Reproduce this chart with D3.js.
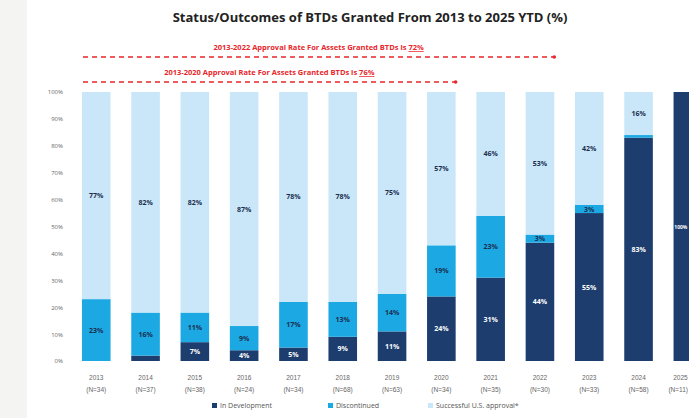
<!DOCTYPE html>
<html>
<head>
<meta charset="utf-8">
<script src="https://cdn.jsdelivr.net/npm/d3@7"></script>
<style>
  body { margin: 0; background: #fff; overflow: hidden; }
  svg { display: block; font-family: "Open Sans", "Noto Sans", sans-serif; }
</style>
</head>
<body>
<script>
const years = ['2013', '2014', '2015', '2016', '2017', '2018', '2019', '2020', '2021', '2022', '2023', '2024', '2025']
const counts = ['(N=34)', '(N=37)', '(N=38)', '(N=24)', '(N=34)', '(N=68)', '(N=63)', '(N=34)', '(N=35)', '(N=30)', '(N=33)', '(N=58)', '(N=11)']
const inDevelopment = [0, 2, 7, 4, 5, 9, 11, 24, 31, 44, 55, 83, 100]
const discontinued = [23, 16, 11, 9, 17, 13, 14, 19, 23, 3, 3, 1, 0]
const successful = [77, 82, 82, 87, 78, 78, 75, 57, 46, 53, 42, 16, 0]
const seriesNames = ['In Development', 'Discontinued', 'Successful U.S. approval*']
const yTicks = [0, 10, 20, 30, 40, 50, 60, 70, 80, 90, 100]

const rateNotes = [
    {text: '2013-2022 Approval Rate For Assets Granted BTDs is ', rate: '72%', lastYear: '2022'},
    {text: '2013-2020 Approval Rate For Assets Granted BTDs is ', rate: '76%', lastYear: '2020'}
]

const width = 689
const height = 418
const colors = ['#1c3d6e', '#1ba8e3', '#c9e7f8']
const labelColors = ['#ffffff', '#1c2f50', '#1c2f50']

const svg = d3.select('body')
    .append('svg')
    .attr('width', width)
    .attr('height', height)

// faint gray strip down the left edge
svg.append('rect')
    .attr('width', 27)
    .attr('height', height)
    .attr('fill', '#f4f4f2')

const rows = years.map((y, i) => ({
    year: y,
    n: counts[i],
    'In Development': inDevelopment[i],
    'Discontinued': discontinued[i],
    'Successful U.S. approval*': successful[i]
}))

const x = d3.scaleBand()
    .domain(years)
    .range([71.6, 71.6 + 13 * 49.3])
    .paddingInner(0.42)
    .paddingOuter(0.21)

const y = d3.scaleLinear()
    .domain([0, 100])
    .range([361, 92])

const stack = d3.stack().keys(seriesNames)(rows)

// keep a text inside the right edge (the last bar runs off the page)
function keepInside(sel) {
    sel.each(function () {
        const box = this.getBBox()
        const ctm = this.getCTM()
        const right = ctm.e + box.x + box.width
        if (right > width - 1) {
            const cur = +d3.select(this).attr('x') || 0
            d3.select(this).attr('x', cur - (right - width + 1))
        }
    })
}

// title
svg.append('text')
    .attr('x', 370)
    .attr('y', 22)
    .attr('text-anchor', 'middle')
    .attr('font-size', 13)
    .attr('font-weight', 'bold')
    .attr('fill', '#222')
    .text('Status/Outcomes of BTDs Granted From 2013 to 2025 YTD (%)')

// red approval-rate notes with dashed lines
rateNotes.forEach((note, i) => {
    const lineY = 57 + i * 25
    const x0 = 83
    const x1 = x(note.lastYear) + x.bandwidth()
    const t = svg.append('text')
        .attr('x', (x0 + x1) / 2)
        .attr('y', lineY - 7)
        .attr('text-anchor', 'middle')
        .attr('font-size', 7.5)
        .attr('font-weight', 'bold')
        .attr('fill', '#e8262b')
    t.append('tspan').text(note.text)
    t.append('tspan')
        .attr('text-decoration', 'underline')
        .text(note.rate)

    svg.append('line')
        .attr('x1', x0)
        .attr('x2', x1)
        .attr('y1', lineY)
        .attr('y2', lineY)
        .attr('stroke', '#e8262b')
        .attr('stroke-width', 1.6)
        .attr('stroke-dasharray', '5,4')
    svg.append('circle')
        .attr('cx', x1)
        .attr('cy', lineY)
        .attr('r', 1.8)
        .attr('fill', '#e8262b')
})

// y axis
const yAxis = svg.append('g')
    .attr('transform', 'translate(63,0)')
    .call(d3.axisLeft(y)
        .tickValues(yTicks)
        .tickFormat(d => d + '%')
        .tickSize(0)
        .tickPadding(0))
yAxis.select('.domain').remove()
yAxis.selectAll('text')
    .attr('font-size', 6)
    .attr('fill', '#666')
    .attr('font-family', '"Open Sans", sans-serif')

// x axis
const xAxis = svg.append('g')
    .attr('transform', 'translate(0,361)')
    .call(d3.axisBottom(x).tickSize(0).tickPadding(0))
xAxis.select('.domain').remove()
xAxis.selectAll('text').remove()
xAxis.selectAll('.tick').each(function (d, i) {
    const g = d3.select(this)
    g.append('text')
        .attr('class', 'xlab')
        .attr('y', 19)
        .attr('text-anchor', 'middle')
        .attr('font-size', 6.5)
        .attr('fill', '#666')
        .text(d)
    g.append('text')
        .attr('class', 'xlab')
        .attr('y', 31)
        .attr('text-anchor', 'middle')
        .attr('font-size', 6.5)
        .attr('fill', '#666')
        .text(counts[i])
})
keepInside(xAxis.selectAll('.xlab'))

// bars
const layer = svg.append('g')
    .selectAll('g')
    .data(stack)
    .join('g')
    .attr('fill', (d, i) => colors[i])

layer.selectAll('rect')
    .data(d => d)
    .join('rect')
    .attr('x', d => x(d.data.year))
    .attr('width', x.bandwidth())
    .attr('y', d => y(d[1]))
    .attr('height', d => y(d[0]) - y(d[1]))

// segment labels
stack.forEach((s, i) => {
    svg.append('g')
        .selectAll('text')
        .data(s.filter(d => d[1] - d[0] >= 3))
        .join('text')
        .attr('x', d => x(d.data.year) + x.bandwidth() / 2)
        .attr('y', d => (y(d[0]) + y(d[1])) / 2 + 2.5)
        .attr('text-anchor', 'middle')
        .attr('font-size', 7)
        .attr('font-weight', 'bold')
        .attr('fill', labelColors[i])
        .text(d => (d[1] - d[0]) + '%')
        .each(function (d) {
            // the last bar is only partly on the page: fit its label in what shows
            const left = x(d.data.year)
            const room = width - 1 - left
            if (left + x.bandwidth() <= width) return
            const w = this.getBBox().width
            const el = d3.select(this)
            if (w > room - 1) el.attr('font-size', 7 * (room - 1) / w)
            el.attr('x', left + room / 2)
        })
})

// legend
const legendX = [212, 328, 428]
const legend = svg.append('g')
    .selectAll('g')
    .data(seriesNames)
    .join('g')
    .attr('transform', (d, i) => `translate(${legendX[i]},407)`)
legend.append('rect')
    .attr('y', -4)
    .attr('width', 5)
    .attr('height', 5)
    .attr('fill', (d, i) => colors[i])
legend.append('text')
    .attr('x', 8)
    .attr('y', 1)
    .attr('font-size', 7)
    .attr('fill', '#555')
    .text(d => d)
</script>
</body>
</html>
